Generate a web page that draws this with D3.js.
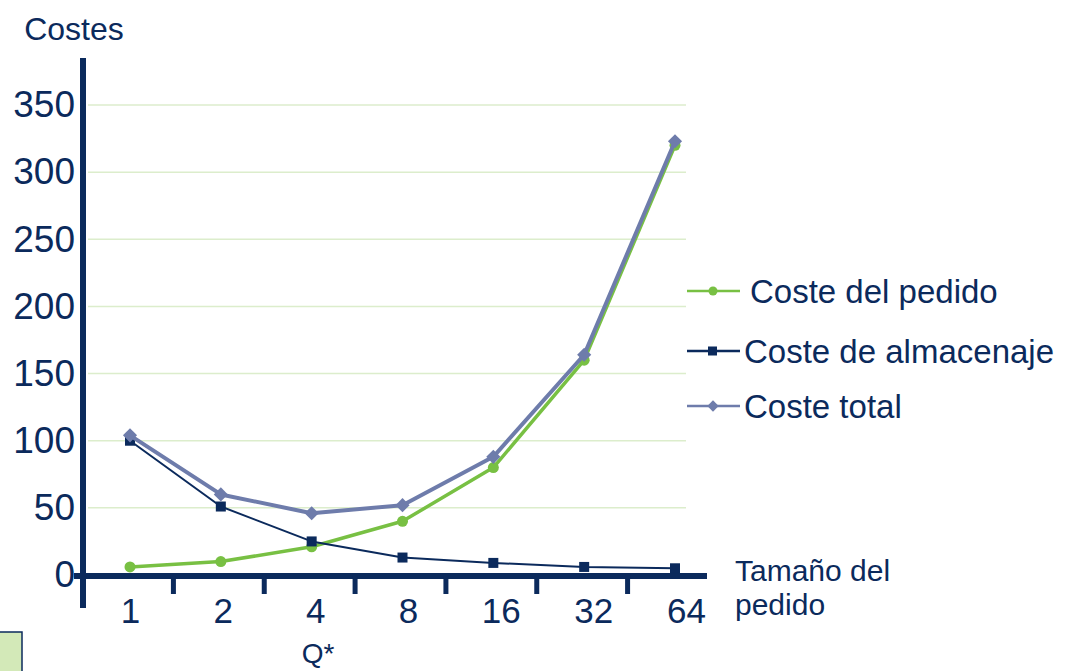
<!DOCTYPE html>
<html>
<head>
<meta charset="utf-8">
<script src="https://cdn.jsdelivr.net/npm/d3@7"></script>
<style>
  body { margin: 0; background: #fff; }
  text { font-family: "Liberation Sans", Arial, sans-serif; fill: #0b2a5c; }
</style>
</head>
<body>
<div id="chart"></div>
<script>
var sizes = ["1", "2", "4", "8", "16", "32", "64"];
var pedido = [6, 10, 21, 40, 80, 160, 320];
var almacenaje = [100, 51, 25, 13, 9, 6, 5];
var total = [104, 60, 46, 52, 88, 164, 323];
var yTicks = [0, 50, 100, 150, 200, 250, 300, 350];
var seriesNames = ["Coste del pedido", "Coste de almacenaje", "Coste total"];

var width = 1072, height = 671;
var navy = "#0b2a5c", green = "#78c043", slate = "#6e7cab";

var svg = d3.select("#chart").append("svg")
    .attr("width", width)
    .attr("height", height);

var x = d3.scalePoint()
    .domain(sizes)
    .range([130, 675]);

// tick labels sit slightly wider apart than the points
var xLabel = d3.scalePoint()
    .domain(sizes)
    .range([130, 686]);

var y = d3.scaleLinear()
    .domain([0, 350])
    .range([575, 105]);

// grid lines
svg.append("g").selectAll("line")
    .data(yTicks.filter(function(d) { return d > 0; }))
  .enter().append("line")
    .attr("x1", 88).attr("x2", 686)
    .attr("y1", function(d) { return y(d); })
    .attr("y2", function(d) { return y(d); })
    .attr("stroke", "#dcedcc")
    .attr("stroke-width", 1.5);

// y axis
var yAxis = svg.append("g")
    .attr("transform", "translate(83,0)")
    .call(d3.axisLeft(y).tickValues(yTicks).tickSize(0).tickPadding(8));
yAxis.select(".domain").remove();
yAxis.selectAll("text")
    .attr("font-size", 37)
    .attr("font-family", "Liberation Sans, Arial, sans-serif")
    .attr("fill", navy);

svg.append("line")
    .attr("x1", 83).attr("x2", 83)
    .attr("y1", 58).attr("y2", 608)
    .attr("stroke", navy).attr("stroke-width", 6);

// x axis
var step = x.step();
svg.append("line")
    .attr("x1", 74).attr("x2", 707)
    .attr("y1", 576).attr("y2", 576)
    .attr("stroke", navy).attr("stroke-width", 6);

svg.append("g").selectAll("line")
    .data(sizes.slice(0, -1))
  .enter().append("line")
    .attr("x1", function(d) { return x(d) + step / 2 - 2; })
    .attr("x2", function(d) { return x(d) + step / 2 - 2; })
    .attr("y1", 576).attr("y2", 594)
    .attr("stroke", navy).attr("stroke-width", 5);

var xAxis = svg.append("g")
    .attr("transform", "translate(0,576)")
    .call(d3.axisBottom(xLabel).tickSize(0).tickPadding(22));
xAxis.select(".domain").remove();
xAxis.selectAll("text")
    .attr("font-size", 35)
    .attr("font-family", "Liberation Sans, Arial, sans-serif")
    .attr("fill", navy);

// lines
function drawSeries(values, color, lw) {
  var line = d3.line()
      .x(function(d, i) { return x(sizes[i]); })
      .y(function(d) { return y(d); });
  svg.append("path")
      .datum(values)
      .attr("d", line)
      .attr("fill", "none")
      .attr("stroke", color)
      .attr("stroke-width", lw)
      .attr("stroke-linejoin", "round");
}

drawSeries(pedido, green, 3.5);
svg.append("g").selectAll("circle")
    .data(pedido)
  .enter().append("circle")
    .attr("cx", function(d, i) { return x(sizes[i]); })
    .attr("cy", function(d) { return y(d); })
    .attr("r", 5.5)
    .attr("fill", green);

drawSeries(almacenaje, navy, 2);
svg.append("g").selectAll("rect")
    .data(almacenaje)
  .enter().append("rect")
    .attr("x", function(d, i) { return x(sizes[i]) - 5; })
    .attr("y", function(d) { return y(d) - 5; })
    .attr("width", 10).attr("height", 10)
    .attr("fill", navy);

drawSeries(total, slate, 4);
svg.append("g").selectAll("rect")
    .data(total)
  .enter().append("rect")
    .attr("x", -5).attr("y", -5)
    .attr("width", 10).attr("height", 10)
    .attr("transform", function(d, i) { return "translate(" + x(sizes[i]) + "," + y(d) + ") rotate(45)"; })
    .attr("fill", slate);

// legend
var legendY = [291, 351, 406];
var legend = svg.append("g").selectAll("g")
    .data(seriesNames)
  .enter().append("g")
    .attr("transform", function(d, i) { return "translate(0," + legendY[i] + ")"; });

legend.append("line")
    .attr("x1", 687).attr("x2", 740)
    .attr("stroke", function(d, i) { return [green, navy, slate][i]; })
    .attr("stroke-width", 2.5);

legend.each(function(d, i) {
  var g = d3.select(this);
  if (i === 0) g.append("circle").attr("cx", 713).attr("r", 4.5).attr("fill", green);
  if (i === 1) g.append("rect").attr("x", 708).attr("y", -4.5).attr("width", 9).attr("height", 9).attr("fill", navy);
  if (i === 2) g.append("rect").attr("x", -4).attr("y", -4).attr("width", 8).attr("height", 8)
      .attr("transform", "translate(713,0) rotate(45)").attr("fill", slate);
});

legend.append("text")
    .attr("x", function(d, i) { return i === 0 ? 750 : 744; })
    .attr("dy", "0.35em")
    .attr("font-size", 33)
    .text(function(d) { return d; });

// titles
svg.append("text")
    .attr("x", 74).attr("y", 40)
    .attr("text-anchor", "middle")
    .attr("font-size", 32)
    .text("Costes");

svg.append("text")
    .attr("x", 735).attr("y", 581)
    .attr("font-size", 30)
    .text("Tamaño del");

svg.append("text")
    .attr("x", 735).attr("y", 615)
    .attr("font-size", 30)
    .text("pedido");

svg.append("text")
    .attr("x", 318).attr("y", 663)
    .attr("text-anchor", "middle")
    .attr("font-size", 28)
    .text("Q*");

svg.append("rect")
    .attr("x", -1).attr("y", 632)
    .attr("width", 23).attr("height", 50)
    .attr("fill", "#d3e9b8")
    .attr("stroke", navy)
    .attr("stroke-width", 1.5);
</script>
</body>
</html>
